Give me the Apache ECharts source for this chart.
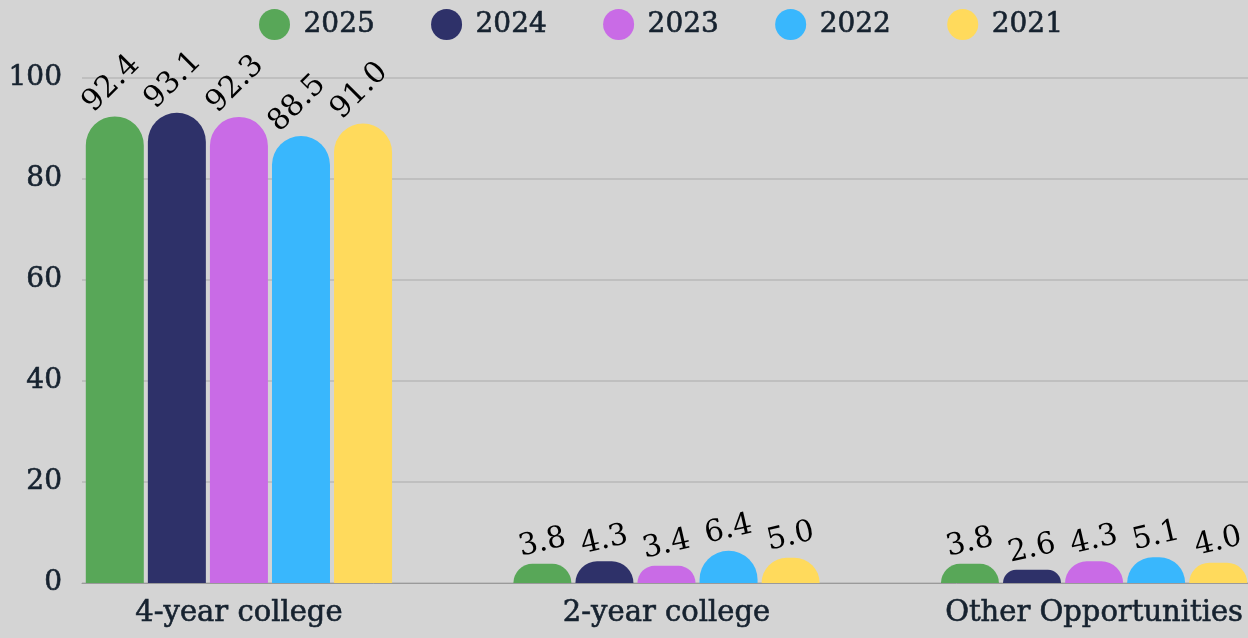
<!DOCTYPE html>
<html>
<head>
<meta charset="utf-8">
<script src="https://cdn.jsdelivr.net/npm/echarts@6/dist/echarts.min.js"></script>
<style>
html,body{margin:0;padding:0;background:#d4d4d4;}
#chart{width:1248px;height:638px;}
</style>
</head>
<body>
<div id="chart"></div>
<script>
const categories = ['4-year college', '2-year college', 'Other Opportunities'];
const years = ['2025', '2024', '2023', '2022', '2021'];
const v2025 = [92.4, 3.8, 3.8];
const v2024 = [93.1, 4.3, 2.6];
const v2023 = [92.3, 3.4, 4.3];
const v2022 = [88.5, 6.4, 5.1];
const v2021 = [91.0, 5.0, 4.0];
const seriesValues = [v2025, v2024, v2023, v2022, v2021];

const colors = ['#58a758', '#2e3169', '#c96be6', '#39b7fd', '#ffda5c'];
const FONT = 'DejaVu Serif';
const TXT = '#16222f';

const chart = echarts.init(document.getElementById('chart'));

const series = years.map((y, si) => ({
  name: y,
  type: 'bar',
  barWidth: 58,
  barGap: '7%',
  itemStyle: { color: colors[si], borderRadius: [29, 29, 0, 0] },
  data: seriesValues[si].map((v, ci) => ({
    value: [ci, v],
    label: {
      show: true,
      position: 'top',
      rotate: ci === 0 ? 45 : 13,
      distance: ci === 0 ? 36 : 21,
      offset: ci === 0 ? [-5, 0] : [0, 0],
      align: 'center',
      verticalAlign: 'middle',
      fontFamily: FONT,
      fontSize: 30,
      color: '#000',
      formatter: p => p.value[1].toFixed(1)
    }
  }))
}));

const axisText = { fontFamily: FONT, color: TXT, textBorderColor: TXT, textBorderWidth: 0.6 };

chart.setOption({
  backgroundColor: '#d4d4d4',
  animation: false,
  color: colors,
  legend: {
    left: 254,
    top: 4,
    icon: 'circle',
    itemWidth: 32,
    itemHeight: 31,
    itemGap: 56,
    textStyle: Object.assign({ fontSize: 28, width: 69, padding: [0, 0, 0, 8] }, axisText),
    data: years
  },
  grid: { left: 82, right: 0, top: 78, bottom: 55 },
  xAxis: {
    type: 'value',
    min: -0.367,
    max: 2.36,
    splitLine: { show: false },
    axisTick: { show: false },
    axisLine: { show: true, lineStyle: { color: '#9a9a9a', width: 1 } },
    axisLabel: Object.assign({
      customValues: [0, 1, 2],
      formatter: v => categories[Math.round(v)],
      fontSize: 29,
      margin: 16
    }, axisText)
  },
  yAxis: {
    type: 'value',
    min: 0,
    max: 100,
    interval: 20,
    axisLine: { show: false },
    axisTick: { show: false },
    splitLine: { lineStyle: { color: '#b9b9b9', width: 1.5 } },
    axisLabel: Object.assign({ fontSize: 28, margin: 20 }, axisText)
  },
  series: series
});
</script>
</body>
</html>
